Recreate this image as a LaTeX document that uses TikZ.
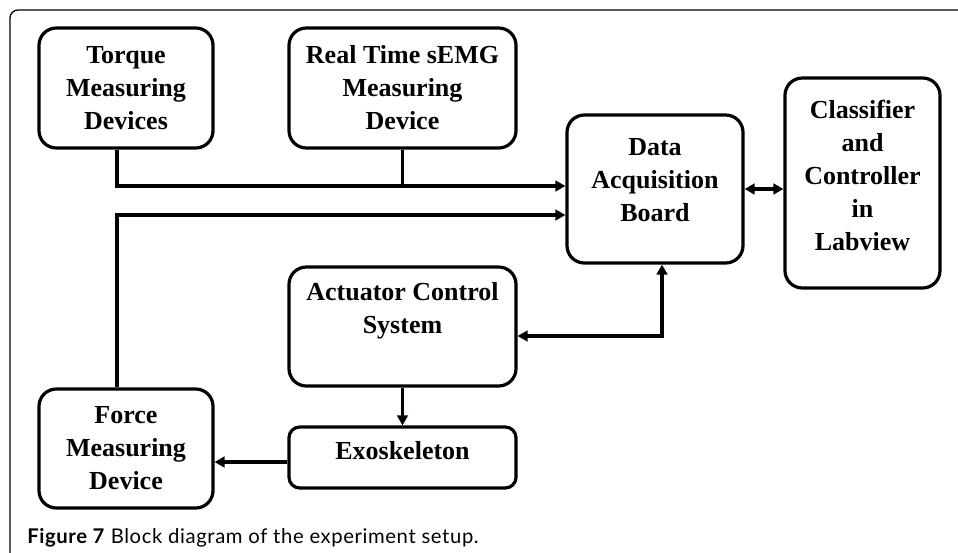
\documentclass[tikz,border=0pt]{standalone}
\usepackage{fontspec}
\setmainfont{Liberation Serif}
\newfontfamily\capfont[LetterSpace=3]{Lato}
\usetikzlibrary{arrows.meta}

\tikzset{
  blk/.style={draw, line width=2.4pt, rounded corners=13pt, inner sep=0pt},
  txt/.style={font=\bfseries\fontsize{19.5}{24.75}\selectfont, align=center, inner sep=0pt},
  wire/.style={line width=2.4pt},
}

\begin{document}
\begin{tikzpicture}[x=0.75pt, y=-0.75pt, >={Triangle[length=7.5pt,width=8pt]}]
\path[use as bounding box, fill=white] (0,0) rectangle (958,553);
% outer frame
\draw[line width=1pt, rounded corners=6pt] (958,10) -- (10,10) -- (10,553);

% blocks
\node[blk, minimum width=130.5pt, minimum height=90pt] (tmd) at (126,88) {};
\node[txt] (tmd-t) at (tmd.center) {Torque\\Measuring\\Devices};
\node[blk, minimum width=170.25pt, minimum height=90pt] (semg) at (402.5,88) {};
\node[txt] (semg-t) at (semg.center) {Real Time sEMG\\Measuring\\Device};
\node[blk, minimum width=132pt, minimum height=111pt] (dab) at (655,189) {};
\node[txt] (dab-t) at ([yshift=7pt]dab.center) {Data\\Acquisition\\Board};
\node[blk, minimum width=116.25pt, minimum height=157.5pt] (ccl) at (862.5,183) {};
\node[txt] (ccl-t) at ([yshift=6pt]ccl.center) {Classifier\\and\\Controller\\in\\Labview};
\node[blk, minimum width=170.25pt, minimum height=89.25pt] (acs) at (402.5,326.5) {};
\node[txt] (acs-t) at ([yshift=11.5pt]acs.center) {Actuator Control\\System};
\node[blk, rounded corners=8pt, minimum width=170.25pt, minimum height=45.75pt] (exo) at (402.5,457.5) {};
\node[txt] (exo-t) at ([yshift=5pt]exo.center) {Exoskeleton};
\node[blk, minimum width=130.5pt, minimum height=89.25pt] (fmd) at (126,448.5) {};
\node[txt] (fmd-t) at (fmd.center) {Force\\Measuring\\Device};

% connectors
\coordinate (lx) at (117,0);
\coordinate (rx) at (662,0);
\draw[wire,->] (tmd.south -| lx) |- (dab.west |- 0,186);
\draw[wire] (semg.south) -- (semg.south |- 0,186);
\draw[wire,->] (fmd.north -| lx) |- (dab.west |- 0,215);
\draw[wire,<->] (dab.east) -- (dab.east -| ccl.west);
\draw[wire,<->] (dab.south -| rx) |- (acs.east |- 0,336);
\draw[wire,->] (acs.south) -- (exo.north);
\draw[wire,->] (exo.west |- 0,462) -- (fmd.east |- 0,462);

% caption
\node[anchor=base west, inner sep=0pt, font=\capfont\fontsize{15.2}{17}\selectfont] (cap) at (27,543)
  {\textbf{Figure 7} Block diagram of the experiment setup.};
\end{tikzpicture}
\end{document}
